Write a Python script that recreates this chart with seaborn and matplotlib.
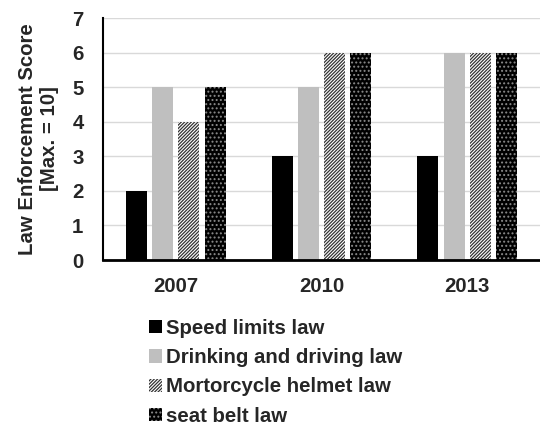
import matplotlib
matplotlib.use("Agg")
import matplotlib.pyplot as plt
from matplotlib.patches import Patch
import seaborn as sns
import pandas as pd

years = ["2007", "2010", "2013"]
laws = ["Speed limits law", "Drinking and driving law",
        "Mortorcycle helmet law", "seat belt law"]
speed = [2, 3, 3]
drinking = [5, 5, 6]
helmet = [4, 6, 6]
seatbelt = [5, 6, 6]
yticks = [0, 1, 2, 3, 4, 5, 6, 7]

rows = []
for law, vals in zip(laws, [speed, drinking, helmet, seatbelt]):
    for y, v in zip(years, vals):
        rows.append({"year": y, "law": law, "score": v})
df = pd.DataFrame(rows)

sns.set_theme(style="white")
plt.rcParams["font.family"] = ["Liberation Sans", "DejaVu Sans"]
plt.rcParams["font.weight"] = "bold"
plt.rcParams["hatch.linewidth"] = 0.9

FS = 14.7

fig = plt.figure(figsize=(5.4, 4.25), dpi=100)
ax = fig.add_axes([103/540, 1-260/425, 1-103/540, (260-18)/425])

face = ["#000000", "#bfbfbf", "#ffffff", "#000000"]
hatch = [None, None, "//////////", "...."]
hcol = ["#000000", "#bfbfbf", "#333333", "#8a8a8a"]

sns.barplot(data=df, x="year", y="score", hue="law", hue_order=laws,
            order=years, palette=face, width=0.72, gap=0.2,
            legend=False, ax=ax, saturation=1)

for i, cont in enumerate(ax.containers):
    for p in cont:
        p.set_facecolor(face[i])
        p.set_edgecolor(hcol[i])
        p.set_linewidth(0)
        if hatch[i]:
            p.set_hatch(hatch[i])

ax.set_ylim(0, 7)
ax.set_xlim(-0.5, 2.5)
ax.set_yticks(yticks)
ax.set_yticklabels([str(t) for t in yticks], fontsize=FS, fontweight="bold")
for lbl in ax.get_xticklabels():
    lbl.set_fontsize(FS)
    lbl.set_fontweight("bold")
ax.tick_params(axis="y", length=0, pad=14)
ax.tick_params(axis="x", length=0, pad=12)
ax.yaxis.grid(True, color="#d9d9d9", linewidth=1)
ax.set_axisbelow(True)
for s in ["top", "right"]:
    ax.spines[s].set_visible(False)
ax.spines["left"].set_color("black")
ax.spines["left"].set_linewidth(1.5)
ax.spines["bottom"].set_color("black")
ax.spines["bottom"].set_linewidth(2)
ax.set_xlabel("")
ax.set_ylabel("Law Enforcement Score\n[Max. = 10]", fontsize=FS,
              fontweight="bold", linespacing=1.2)
ax.yaxis.set_label_coords(-0.10, 0.5)

handles = []
for i, law in enumerate(laws):
    handles.append(Patch(facecolor=face[i], edgecolor=hcol[i], linewidth=0,
                         hatch=hatch[i], label=law))
fig.legend(handles=handles, loc="upper left",
           bbox_to_anchor=(149/540, 1-319/425), frameon=False,
           prop={"size": FS, "weight": "bold"}, handlelength=0.62,
           handleheight=0.62, handletextpad=0.2, labelspacing=0.5,
           borderpad=0, borderaxespad=0)

fig.savefig("out.png", dpi=100)
